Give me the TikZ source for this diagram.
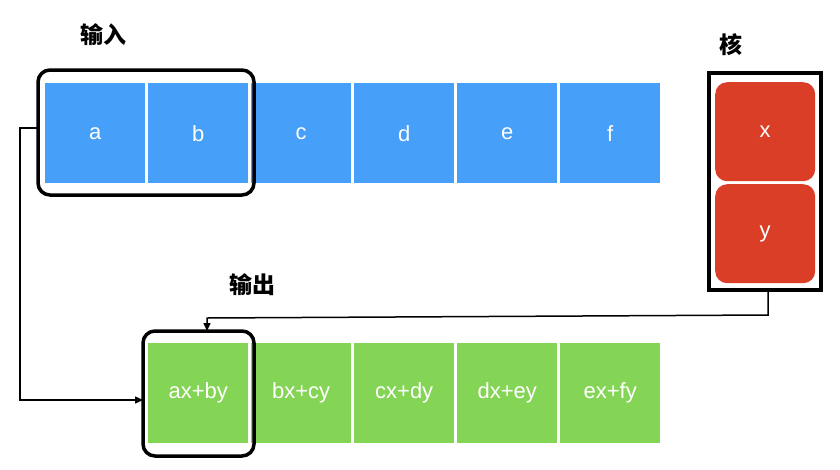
\documentclass[tikz,border=0pt]{standalone}
\usepackage{fontspec}
\setmainfont{Liberation Sans}
\newfontfamily\cjk{Noto Sans CJK SC}
\usetikzlibrary{arrows.meta}
\definecolor{cblue}{HTML}{469FF8}
\definecolor{cred}{HTML}{DB3E27}
\definecolor{cgreen}{HTML}{84D456}
\begin{document}
\begin{tikzpicture}[x=1pt,y=-1pt,
  cellbox/.style={minimum width=100pt,minimum height=100pt,inner sep=0pt,text=white,font=\fontsize{22}{22}\selectfont},
  bluecell/.style={cellbox,fill=cblue},
  greencell/.style={cellbox,fill=cgreen},
  redcell/.style={cellbox,fill=cred,rounded corners=12pt,minimum height=99pt},
  frame/.style={draw=black,line width=3.5pt},
  conn/.style={draw=black,line width=1.5pt},
  arr/.style={conn,-{Triangle[length=8pt,width=7pt]}},
  title/.style={font=\cjk\bfseries\fontsize{23}{23}\selectfont}]
\useasboundingbox (0,0) rectangle (840,469);
% input row
\foreach \n/\t [count=\i from 0] in {a/a,b/b,c/c,d/d,e/e,f/f}
  \node[bluecell,anchor=north west] (\n) at (45+103*\i,83) {\t};
% output row
\foreach \n/\t [count=\i from 0] in {o1/ax+by,o2/bx+cy,o3/cx+dy,o4/dx+ey,o5/ex+fy}
  \node[greencell,anchor=north west] (\n) at (148+103*\i,343) {\t};
% kernel
\node[redcell,anchor=north west] (x) at (715,82) {x};
\node[redcell,anchor=north west] (y) at (715,184) {y};
% frames
\draw[frame,rounded corners=12pt] (38,70) rectangle (254,195);
\coordinate (inL) at (38,128);
\draw[frame,rounded corners=12pt] (143,331) rectangle (254,456);
\coordinate (outL) at (143,400);
\coordinate (outT) at (207,331);
\draw[frame] (709,73) rectangle (821,290);
\coordinate (kB) at (768,290);
% labels
\node[title] (tin) at (103,35) {输入};
\node[title] (tk) at (731,45) {核};
\node[title] (tout) at (252,285) {输出};
% connectors
\coordinate (c1) at (20,128);
\coordinate (c2) at (20,400);
\draw[arr] (inL) -- (c1) -- (c2) -- (outL);
\coordinate (c3) at (768,315);
\coordinate (c4) at (207,318);
\draw[arr] (kB) -- (c3) -- (c4) -- (outT);
\end{tikzpicture}
\end{document}
